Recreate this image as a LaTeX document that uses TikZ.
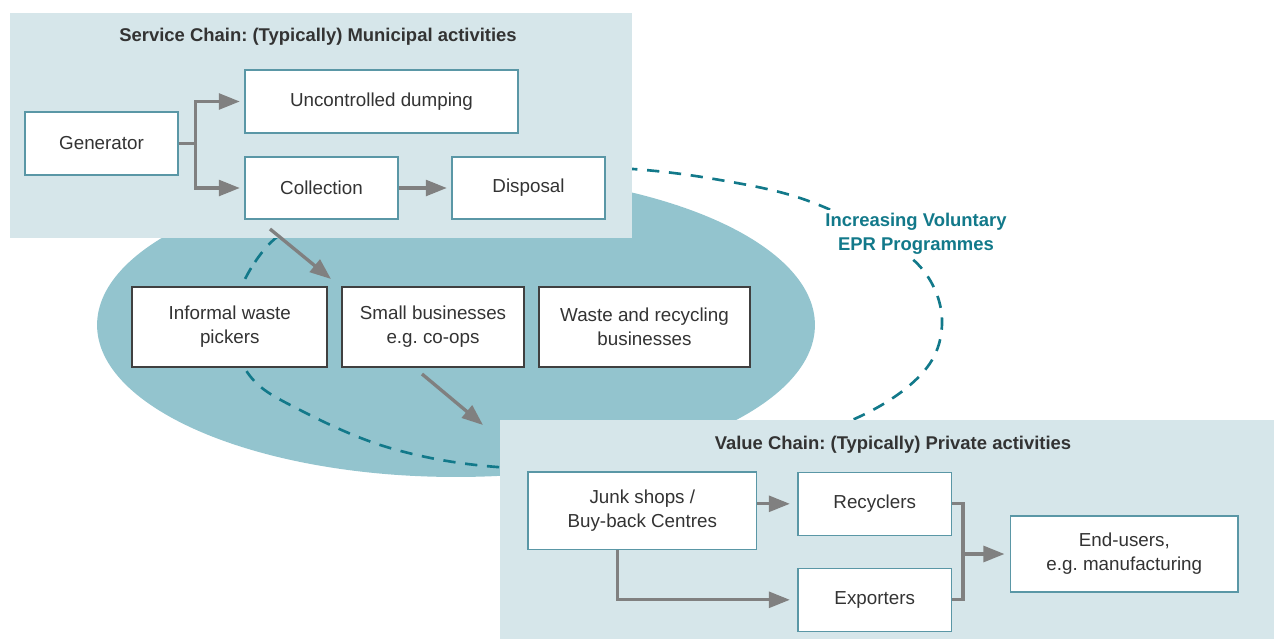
\documentclass[tikz,border=0pt]{standalone}
\usepackage{fontspec}
\setmainfont{Liberation Sans}
\usepackage{color}
\usepackage{tikz}
\usetikzlibrary{arrows.meta}
\frenchspacing

\definecolor{panelblue}{HTML}{D6E6EA}
\definecolor{ovalblue}{HTML}{93C4CE}
\definecolor{eprteal}{HTML}{12798A}
\definecolor{boxedge}{HTML}{5A97A6}
\definecolor{flowgray}{HTML}{808080}
\definecolor{textgray}{HTML}{333333}

\tikzset{
  box/.style={draw=boxedge, line width=0.9pt, fill=white, text=textgray, align=center, inner sep=0pt},
  darkbox/.style={box, draw=black!75, line width=1.2pt},
  link/.style={draw=flowgray, line width=1.9pt},
  flow/.style={link, -{Triangle[length=12pt,width=9pt]}, shorten >=2.5pt},
  paneltitle/.style={font=\fontsize{10.5}{13.6}\selectfont\bfseries, text=textgray},
  eprloop/.style={draw=eprteal, line width=1.5pt, dash pattern=on 7pt off 5.5pt}
}

\begin{document}
\begin{tikzpicture}[x=0.02cm, y=-0.02cm, font=\fontsize{10.7}{13.6}\selectfont]
\useasboundingbox (0,0) rectangle (1274,639);
%% oval and dashed EPR loop
\fill[ovalblue] (456,325) ellipse [x radius=7.18cm, y radius=3.04cm];
\draw[eprloop] plot[smooth cycle, tension=0.6] coordinates {(232,322) (255,262) (300,222) (400,183) (520,165) (633,169) (720,180) (800,198) (870,230) (923,270) (942,320) (925,370) (863,415) (760,450) (640,468) (497,467) (390,448) (300,410) (250,376)};
\node[text=eprteal, font=\fontsize{10.5}{13.6}\selectfont\bfseries, align=center, fill=white, inner sep=2pt] (epr) at (916,234) {Increasing Voluntary\\EPR Programmes};
%%------------
\fill[panelblue] (10,13) rectangle (632,238);
\fill[panelblue] (500,420) rectangle (1274,639);
\node[paneltitle] (stitle) at (318,37) {Service Chain: (Typically) Municipal activities};
\node[paneltitle] (vtitle) at (893,445) {Value Chain: (Typically) Private activities};
%%------------
\node[box, minimum width=3.06cm, minimum height=1.26cm] (gen) at (101.5,143.5) {Generator};
\node[box, minimum width=5.46cm, minimum height=1.26cm] (dump) at (381.5,101.5) {Uncontrolled dumping};
\node[box, minimum width=3.06cm, minimum height=1.24cm] (coll) at (321.5,188) {Collection};
\node[box, minimum width=3.06cm, minimum height=1.24cm] (disp) at (528.5,188) {Disposal};
\draw[flow] (gen.east) -- ++(17,0) |- (dump.west);
\draw[flow] (gen.east) -- ++(17,0) |- (coll.west);
\draw[flow] (coll.east) -- (disp.west);
%%------------
\node[darkbox, minimum width=3.9cm, minimum height=1.59cm] (pickers) at (229.8,327) {Informal waste\\pickers};
\node[darkbox, minimum width=3.64cm, minimum height=1.59cm] (smallbiz) at (433,327) {Small businesses\\e.g. co-ops};
\node[darkbox, minimum width=4.22cm, minimum height=1.59cm] (wrbiz) at (644.5,327) {Waste and recycling\\businesses};
\coordinate (c1) at (270,229);
\coordinate (c2) at (331,279);
\coordinate (c3) at (422,374);
\coordinate (c4) at (483,425);
\draw[flow, shorten >=0pt] (c1) -- (c2);
\draw[flow, shorten >=0pt] (c3) -- (c4);
%%------------
\node[box, minimum width=4.57cm, minimum height=1.55cm] (junk) at (642.3,510.7) {Junk shops /\\Buy-back Centres};
\node[box, minimum width=3.08cm, minimum height=1.26cm] (recyc) at (874.7,503.8) {Recyclers};
\node[box, minimum width=3.08cm, minimum height=1.26cm] (export) at (874.7,599.8) {Exporters};
\node[box, minimum width=4.55cm, minimum height=1.52cm] (endusers) at (1124.3,554) {End-users,\\e.g. manufacturing};
\coordinate (join) at (963,554);
\draw[flow, shorten >=4pt] (junk.east |- recyc.west) -- (recyc.west);
\draw[flow, shorten >=4pt] ([xshift=-0.5cm]junk.south) |- (export.west);
\draw[link] (recyc.east) -| (join) |- (export.east);
\draw[flow, shorten >=3pt] (join) -- (endusers.west);
\end{tikzpicture}
\end{document}
